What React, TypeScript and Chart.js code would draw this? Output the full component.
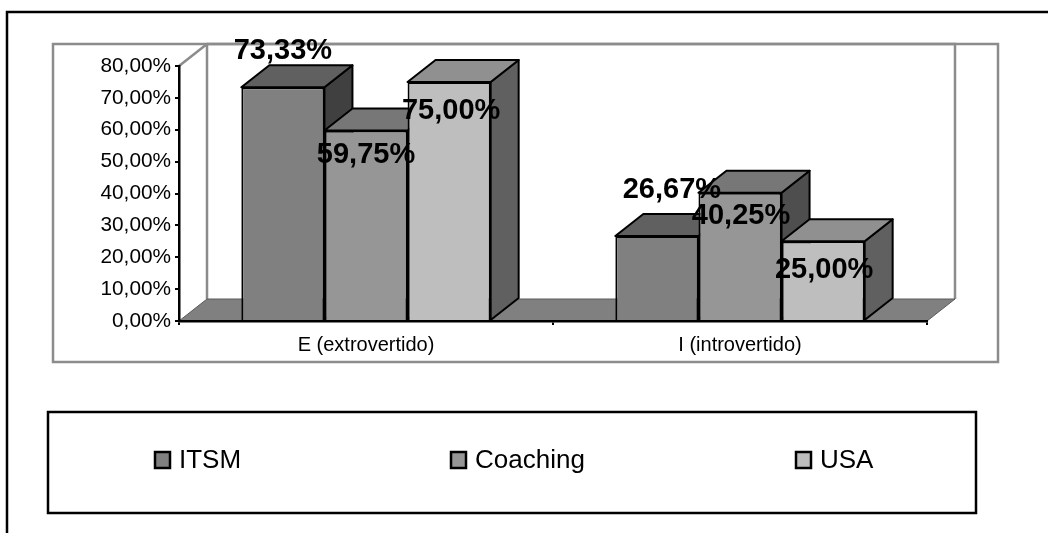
import { useEffect, useRef } from "react";
import { Chart, registerables } from "chart.js";

Chart.register(...registerables);

const categories = ["E (extrovertido)", "I (introvertido)"];
const seriesNames = ["ITSM", "Coaching", "USA"];
const itsmValues = [73.33, 26.67];
const coachingValues = [59.75, 40.25];
const usaValues = [75.0, 25.0];

const frontColors = ["#808080", "#969696", "#bebebe"];
const topColors = ["#606060", "#777777", "#909090"];
const sideColors = ["#404040", "#4e4e4e", "#606060"];

// Projection of the depth axis, in pixels
const DEPTH_X = 28;
const DEPTH_Y = -22;

const percent = (v: number) => v.toFixed(2).replace(".", ",") + "%";

// Hand placement of the value labels, relative to the top centre of each bar
const labelShift = [
  [[0, -36], [15, -46]],
  [[0, 24], [1, 23]],
  [[2, 29], [1, 29]],
];

const legendSlots = [155, 451, 796];

const poly = (ctx: CanvasRenderingContext2D, pts: number[][], fill: string) => {
  ctx.beginPath();
  pts.forEach(([x, y], i) => (i ? ctx.lineTo(x, y) : ctx.moveTo(x, y)));
  ctx.closePath();
  ctx.fillStyle = fill;
  ctx.fill();
  ctx.stroke();
};

// Outer frame, plot frame, back wall and floor
const roomPlugin = {
  id: "room",
  beforeDraw(chart: any) {
    const { ctx, chartArea: a } = chart;
    ctx.save();
    ctx.fillStyle = "#ffffff";
    ctx.fillRect(0, 0, chart.width, chart.height);

    ctx.strokeStyle = "#000000";
    ctx.lineWidth = 2.5;
    ctx.beginPath();
    ctx.moveTo(7, 533);
    ctx.lineTo(7, 12);
    ctx.lineTo(1048, 12);
    ctx.stroke();

    ctx.strokeStyle = "#8c8c8c";
    ctx.lineWidth = 2.5;
    ctx.strokeRect(53, 44, 945, 318);

    const l = a.left, r = a.right, t = a.top, b = a.bottom;
    ctx.beginPath();
    ctx.moveTo(l, t);
    ctx.lineTo(l + DEPTH_X, t + DEPTH_Y);
    ctx.lineTo(r + DEPTH_X, t + DEPTH_Y);
    ctx.lineTo(r + DEPTH_X, b + DEPTH_Y);
    ctx.moveTo(l + DEPTH_X, t + DEPTH_Y);
    ctx.lineTo(l + DEPTH_X, b + DEPTH_Y);
    ctx.stroke();

    ctx.lineWidth = 1;
    ctx.strokeStyle = "#5a5a5a";
    poly(ctx, [[l, b], [l + DEPTH_X, b + DEPTH_Y], [r + DEPTH_X, b + DEPTH_Y], [r, b]], "#808080");
    ctx.restore();
  },
};

// Side and top faces of the bars, painted left to right under the front faces
const prismPlugin = {
  id: "prism",
  beforeDatasetsDraw(chart: any) {
    const { ctx } = chart;
    ctx.save();
    ctx.strokeStyle = "#000000";
    ctx.lineWidth = 2;
    ctx.lineJoin = "round";
    chart.data.labels.forEach((_: string, c: number) => {
      chart.data.datasets.forEach((_d: unknown, d: number) => {
        const bar = chart.getDatasetMeta(d).data[c];
        const x0 = bar.x - bar.width / 2;
        const x1 = bar.x + bar.width / 2;
        const { y, base } = bar;
        poly(ctx, [[x1, y], [x1 + DEPTH_X, y + DEPTH_Y], [x1 + DEPTH_X, base + DEPTH_Y], [x1, base]], sideColors[d]);
        poly(ctx, [[x0, y], [x0 + DEPTH_X, y + DEPTH_Y], [x1 + DEPTH_X, y + DEPTH_Y], [x1, y]], topColors[d]);
      });
    });
    ctx.restore();
  },
};

// Value labels above everything else
const valueLabelPlugin = {
  id: "valueLabels",
  afterDatasetsDraw(chart: any) {
    const { ctx } = chart;
    ctx.save();
    ctx.font = 'bold 29px "Liberation Sans"';
    ctx.fillStyle = "#000000";
    ctx.textAlign = "center";
    ctx.textBaseline = "middle";
    chart.data.datasets.forEach((ds: any, d: number) => {
      chart.getDatasetMeta(d).data.forEach((bar: any, c: number) => {
        const [sx, sy] = labelShift[d][c];
        ctx.fillText(percent(ds.data[c]), bar.x + sx, bar.y + sy);
      });
    });
    ctx.restore();
  },
};

// Boxed legend spread across the lower part of the figure
const boxedLegendPlugin = {
  id: "boxedLegend",
  afterDraw(chart: any) {
    const { ctx } = chart;
    ctx.save();
    ctx.strokeStyle = "#000000";
    ctx.lineWidth = 2.5;
    ctx.strokeRect(48, 412, 928, 101);
    ctx.font = '26px "Liberation Sans"';
    ctx.textBaseline = "middle";
    seriesNames.forEach((name, i) => {
      const x = legendSlots[i];
      ctx.fillStyle = frontColors[i];
      ctx.fillRect(x, 452, 15, 16);
      ctx.strokeRect(x, 452, 15, 16);
      ctx.fillStyle = "#000000";
      ctx.fillText(name, x + 24, 461);
    });
    ctx.restore();
  },
};

export default function App() {
  const ref = useRef<HTMLCanvasElement>(null);
  useEffect(() => {
    const chart = new Chart(ref.current!, {
      type: "bar",
      data: {
        labels: categories,
        datasets: [itsmValues, coachingValues, usaValues].map((data, i) => ({
          label: seriesNames[i],
          data,
          backgroundColor: frontColors[i],
          borderColor: "#000000",
          borderWidth: 2,
          categoryPercentage: 2 / 3,
          barPercentage: 1,
        })),
      },
      options: {
        responsive: false,
        animation: false,
        layout: { padding: { left: 99, right: 121, top: 66, bottom: 172 } },
        plugins: { legend: { display: false }, tooltip: { enabled: false } },
        scales: {
          x: {
            grid: { display: true, drawOnChartArea: false, drawTicks: true, tickLength: 4, color: "#000000", lineWidth: 2 },
            border: { color: "#000000", width: 2.5 },
            ticks: { color: "#000000", font: { family: "Liberation Sans", size: 20 }, maxRotation: 0, padding: 8 },
            afterFit: (s: any) => { s.height = 40; },
          },
          y: {
            min: 0,
            max: 80,
            grid: { display: true, drawOnChartArea: false, tickLength: 4, color: "#000000", lineWidth: 2 },
            border: { color: "#000000", width: 2.5 },
            ticks: {
              stepSize: 10,
              color: "#000000",
              font: { family: "Liberation Sans", size: 20.8 },
              padding: 4,
              callback: (v: any) => percent(Number(v)),
            },
            afterFit: (s: any) => { s.width = 80; },
          },
        },
      },
      plugins: [roomPlugin, prismPlugin, valueLabelPlugin, boxedLegendPlugin],
    });
    return () => chart.destroy();
  }, []);
  return <canvas ref={ref} width={1048} height={533} style={{ position: "fixed", left: 0, top: 0, display: "block" }} />;
}
